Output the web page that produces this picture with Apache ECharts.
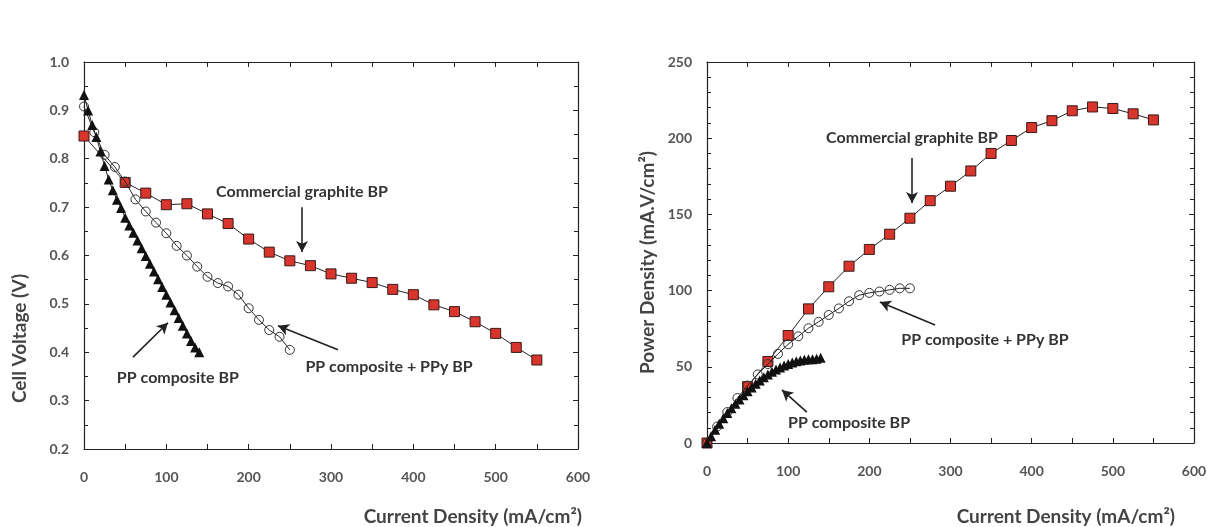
<!DOCTYPE html>
<html>
<head>
<meta charset="utf-8">
<script src="https://cdn.jsdelivr.net/npm/echarts@6/dist/echarts.min.js"></script>
<style>
html,body{margin:0;padding:0;background:#fff;}
#chart{width:1212px;height:527px;}
</style>
</head>
<body>
<div id="chart"></div>
<script>
// ---- Data ----
const commercialCurrent = [0,50,75,100,125,150,175,200,225,250,275,300,325,350,375,400,425,450,475,500,525,550];
const commercialVoltage = [0.847,0.751,0.729,0.705,0.707,0.686,0.666,0.634,0.607,0.589,0.579,0.562,0.553,0.544,0.530,0.519,0.498,0.484,0.463,0.439,0.410,0.384];
const commercialPower   = [0,37,53.5,70.5,88,102.5,116,127,137,147.5,159,168.5,178.5,190,198.5,207,211.5,218,220.5,219.5,216,212];

const ppyCurrent = [0,12.5,25,37.5,50,62.5,75,87.5,100,112.5,125,137.5,150,162.5,175,187.5,200,212.5,225,237.5,250];
const ppyVoltage = [0.908,0.855,0.808,0.783,0.753,0.716,0.691,0.668,0.646,0.620,0.600,0.577,0.556,0.543,0.536,0.519,0.491,0.467,0.446,0.432,0.405];
const ppyPower   = [0,10.8,20.3,29.5,37.7,45,51.8,58.5,64.8,70,75.3,79.5,84,88.3,93,97,98.5,99.4,100.5,101.5,101.5];

const ppCurrent = [0,5,10,15,20,25,30,35,40,45,50,55,60,65,70,75,80,85,90,95,100,105,110,115,120,125,130,135,140];
const ppVoltage = [0.932,0.90,0.87,0.845,0.815,0.785,0.757,0.735,0.715,0.698,0.678,0.662,0.647,0.631,0.615,0.599,0.583,0.567,0.551,0.535,0.519,0.503,0.487,0.471,0.455,0.439,0.423,0.410,0.400];
const ppPower   = [0,4.5,8.7,12.7,16.3,19.7,22.8,25.8,28.6,31.4,34,36.4,38.8,41,43.1,44.9,46.7,48.2,49.6,50.8,51.9,52.8,53.6,54.2,54.6,54.9,55,55.3,56];

const seriesNames = ['Commercial graphite BP','PP composite + PPy BP','PP composite BP'];
const xTitle = 'Current Density (mA/cm²)';
const yTitleLeft = 'Cell Voltage (V)';
const yTitleRight = 'Power Density (mA.V/cm²)';

// annotation anchors in data units: [x, y]
const leftLabels = [[264.8,0.731],[370.5,0.370],[114,0.347]];
const leftArrows = [[[264.8,0.700],[264.8,0.607]],[[308.5,0.405],[235.6,0.455]],[[59.5,0.390],[102,0.461]]];
const rightLabels = [[252.6,200.1],[342.5,67.6],[175,13.1]];
const rightArrows = [[[252.6,187],[252.6,157.5]],[[281,77.4],[213,92.5]],[[123,20.3],[92.4,34.8]]];

const FONT = 'Lato, "Liberation Sans", sans-serif';
const zip = (a,b) => a.map((v,i)=>[v,b[i]]);

function xAxes(grid, nameGap, namePadTop){
  const base = {
    gridIndex: grid, type:'value', min:0, max:600, interval:100,
    axisLine:{show:true,onZero:false,lineStyle:{color:'#222',width:1.2}},
    axisTick:{show:true,inside:true,length:5,lineStyle:{color:'#222'}},
    minorTick:{show:true,splitNumber:2,length:5,lineStyle:{color:'#222'}},
    splitLine:{show:false}
  };
  return [
    Object.assign({}, base, {
      position:'bottom',
      axisLabel:{show:true,margin:21,fontSize:14,fontWeight:'bold',color:'#555',fontFamily:FONT},
      name:xTitle, nameLocation:'end', nameGap:nameGap,
      nameTextStyle:{fontSize:19,fontWeight:'bold',color:'#444',fontFamily:FONT,align:'right',verticalAlign:'top',padding:[namePadTop,0,0,0]}
    }),
    Object.assign({}, base, {position:'top',axisLabel:{show:false}})
  ];
}
function yAxes(grid, min, max, interval, minorSplit, fmt, name, nameGap, pad){
  const base = {
    gridIndex: grid, type:'value', min:min, max:max, interval:interval,
    axisLine:{show:true,onZero:false,lineStyle:{color:'#222',width:1.2}},
    axisTick:{show:true,inside:true,length:5,lineStyle:{color:'#222'}},
    minorTick:{show:true,splitNumber:minorSplit,length:4,lineStyle:{color:'#222'}},
    splitLine:{show:false}
  };
  return [
    Object.assign({}, base, {
      position:'left',
      axisLabel:{show:true,margin:15,fontSize:14,fontWeight:'bold',color:'#555',fontFamily:FONT,formatter:fmt},
      name:name, nameLocation:'middle', nameGap:nameGap,
      nameTextStyle:{fontSize:19,fontWeight:'bold',color:'#444',fontFamily:FONT,padding:pad}
    }),
    Object.assign({}, base, {position:'right',axisLabel:{show:false}})
  ];
}

function annotations(labels, arrows){
  return {
    markPoint:{
      silent:true, symbol:'circle', symbolSize:0, animation:false,
      label:{show:true,position:'inside',fontSize:16,fontWeight:'bold',color:'#333',fontFamily:FONT,formatter:p=>p.name},
      data: labels.map((c,i)=>({name:seriesNames[i],coord:c}))
    },
    markLine:{
      silent:true, animation:false, symbol:['none','arrow'], symbolSize:[9,11],
      label:{show:false},
      lineStyle:{color:'#222',width:1.6,type:'solid'},
      data: arrows.map(a=>[{coord:a[0]},{coord:a[1]}])
    }
  };
}

function mkSeries(xa, ya, isPower){
  const lineStyle = {color:'#222',width:1};
  return [
    Object.assign({
      name:seriesNames[0], type:'line', xAxisIndex:xa, yAxisIndex:ya,
      data: zip(commercialCurrent, isPower?commercialPower:commercialVoltage),
      symbol:'rect', symbolSize:10, lineStyle:lineStyle,
      itemStyle:{color:'#d8352c',borderColor:'#3a1a18',borderWidth:1}, z:3
    }, annotations(isPower?rightLabels:leftLabels, isPower?rightArrows:leftArrows)),
    {
      name:seriesNames[1], type:'line', xAxisIndex:xa, yAxisIndex:ya,
      data: zip(ppyCurrent, isPower?ppyPower:ppyVoltage),
      symbol:'circle', symbolSize:9, lineStyle:lineStyle,
      itemStyle:{color:'rgba(255,255,255,0)',borderColor:'#333',borderWidth:1}, z:4
    },
    {
      name:seriesNames[2], type:'line', xAxisIndex:xa, yAxisIndex:ya,
      data: zip(ppCurrent, isPower?ppPower:ppVoltage),
      symbol:'triangle', symbolSize:10, lineStyle:lineStyle,
      itemStyle:{color:'#111',borderColor:'#111',borderWidth:0}, z:5
    }
  ];
}

const chart = echarts.init(document.getElementById('chart'), null, {renderer:'canvas'});
const option = {
  animation:false,
  backgroundColor:'#fff',
  grid:[
    {left:84, top:62, width:494, height:387},
    {left:707, top:62, width:487, height:381}
  ],
  xAxis: [].concat(xAxes(0, 4, 58), xAxes(1, -19, 64)),
  yAxis: [].concat(
    yAxes(0, 0.2, 1.0, 0.1, 2, v=>v.toFixed(1), yTitleLeft, 55, [0,166,0,0]),
    yAxes(1, 0, 250, 50, 5, v=>String(v), yTitleRight, 50, [0,20,0,0])
  ),
  series: [].concat(mkSeries(0,0,false), mkSeries(2,2,true))
};
chart.setOption(option);
</script>
</body>
</html>
